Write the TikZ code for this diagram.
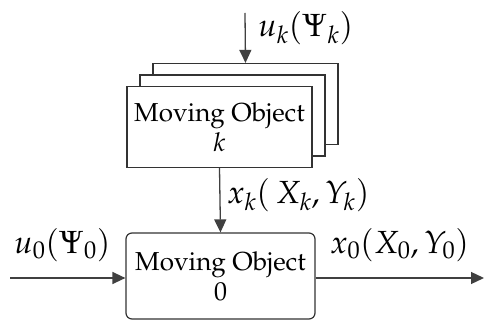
\documentclass[tikz,border=0pt]{standalone}
\usepackage[T1]{fontenc}
\usepackage{mathpazo}
\usetikzlibrary{arrows.meta,positioning}
\tikzset{
  objbox/.style={draw=black!80,fill=white,line width=1.2pt,minimum width=185pt,
    minimum height=81pt,align=center,font=\fontsize{26}{30}\selectfont},
  sigline/.style={draw=black!75,line width=1.3pt,-{Triangle[length=13pt,width=12pt]}},
  siglabel/.style={font=\fontsize{32}{34}\selectfont,inner sep=0pt}
}
\begin{document}
\begin{tikzpicture}[x=1pt,y=-1pt]
  \useasboundingbox (0,0) rectangle (485,320);
  % stack of moving objects k
  \node[objbox] (kback) at (245.5,104) {};
  \node[objbox] (kmid) at (232.5,115.5) {};
  \node[objbox] (kfront) at (219.5,127) {Moving Object\\$k$};
  % moving object 0
  \node[objbox,rounded corners=6pt,minimum width=189pt,minimum height=86pt]
    (obj0) at (220.5,276) {Moving Object\\0};
  \coordinate (ukin) at (245,13);
  \coordinate (uzin) at (10,278);
  \coordinate (xzout) at (484,278);
  \draw[sigline] (ukin) -- (kback.north);
  \draw[sigline] (kfront.south) -- (obj0.north);
  \draw[sigline] (uzin) -- (uzin -| obj0.west);
  \draw[sigline] (xzout -| obj0.east) -- (xzout);
  \node[siglabel,anchor=west] (uklab) at (258,28) {$u_k(\Psi_k)$};
  \node[siglabel,anchor=west] (xklab) at (227,195) {$x_k(\,X_k,Y_k)$};
  \node[siglabel,anchor=west] (uzlab) at (14,245) {$u_0(\Psi_0)$};
  \node[siglabel,anchor=west] (xzlab) at (330,245) {$x_0(X_0,Y_0)$};
\end{tikzpicture}
\end{document}
